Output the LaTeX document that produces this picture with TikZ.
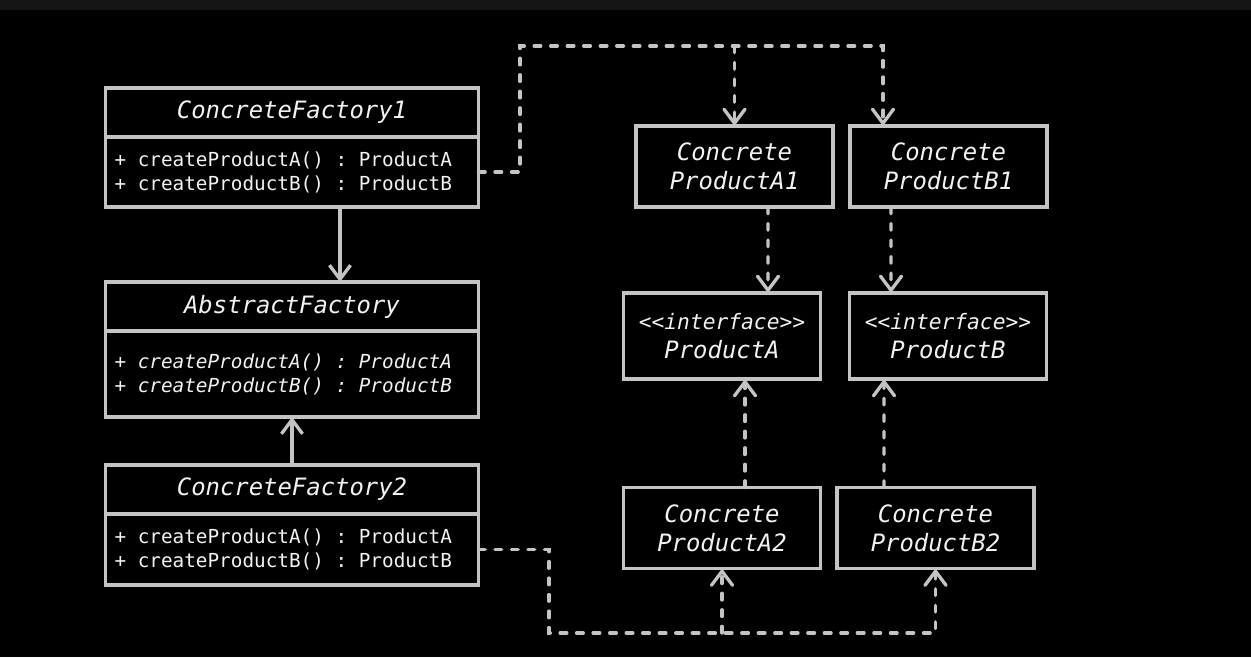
\documentclass[tikz,border=0pt]{standalone}
\usepackage{fontspec}
\setmonofont{DejaVu Sans Mono}
\usetikzlibrary{arrows.meta, positioning}

\definecolor{edge}{HTML}{C4C4C4}
\definecolor{ink}{HTML}{F2F2F2}
\definecolor{topbar}{HTML}{141414}
\newcommand{\namefont}{\fontsize{13.6}{16.4}\selectfont\ttfamily\itshape}
\newcommand{\opfont}{\fontsize{11}{13.6}\selectfont\ttfamily}
\newcommand{\stereo}{\fontsize{12.1}{14}\selectfont}
% full mono spaces (align=left would narrow them)
\newcommand{\monosp}{\spaceskip=0.6021em\xspaceskip=0.6021em\relax}

\begin{document}
\begin{tikzpicture}[
    x=0.02cm, y=-0.02cm,
    head/.style={draw=edge, line width=1.9pt, text=ink, font=\namefont,
                 minimum width=7.46cm, minimum height=0.98cm, inner sep=0pt, outer sep=0pt},
    ops/.style={draw=edge, line width=1.9pt, text=ink, font=\opfont, align=left,
                text width=7.1cm, inner xsep=0.18cm, inner ysep=0pt, outer sep=0pt},
    prod/.style={draw=edge, line width=1.9pt, text=ink, font=\namefont, align=center,
                 minimum width=3.94cm, minimum height=1.62cm, inner sep=0pt, outer sep=0pt},
    dep/.style={draw=edge, line width=1.9pt, line cap=round, dash pattern=on 3.8pt off 5.6pt,
                -{Straight Barb[length=8pt, width=12pt, line cap=round]}},
    gen/.style={draw=edge, line width=1.9pt, -{Straight Barb[length=8pt, width=12pt]}}
  ]
    % background
    \fill[black] (0,0) rectangle (1251,657);
    \fill[topbar] (0,0) rectangle (1251,10);

    % factories
    \node[head] (cf1t) at (292,112.5) {ConcreteFactory1};
    \node[ops, minimum height=1.4cm, below=0pt of cf1t] (cf1b)
      {\monosp + createProductA() : ProductA\\+ createProductB() : ProductB};
    \node[head] (aft) at (292,306.5) {AbstractFactory};
    \node[ops, minimum height=1.72cm, below=0pt of aft, font=\opfont\itshape] (afb)
      {\monosp + createProductA() : ProductA\\+ createProductB() : ProductB};
    \node[head] (cf2t) at (292,489.5) {ConcreteFactory2};
    \node[ops, minimum height=1.42cm, below=0pt of cf2t] (cf2b)
      {\monosp + createProductA() : ProductA\\+ createProductB() : ProductB};

    % products
    \node[prod] (cpa1) at (734.5,166.5) {Concrete\\ProductA1};
    \node[prod] (cpb1) at (948.5,166.5) {Concrete\\ProductB1};
    \node[prod, minimum height=1.72cm] (pa) at (722,336) {{\stereo <<interface>>}\\ProductA};
    \node[prod, minimum height=1.72cm] (pb) at (948,336) {{\stereo <<interface>>}\\ProductB};
    \node[prod] (cpa2) at (722,528) {Concrete\\ProductA2};
    \node[prod] (cpb2) at (935.5,528) {Concrete\\ProductB2};

    \coordinate (t1) at (520,46);
    \coordinate (t2) at (883,46);
    \coordinate (b1) at (549,633);

    % factory links
    \draw[gen] ([xshift=0.96cm]cf1b.south) -- ([xshift=0.96cm]aft.north);
    \draw[gen] (cf2t.north) -- (afb.south);
    \draw[dep] (cf1b.east) -| (t1) -- (t2) -- (t2 |- cpb1.north);
    \draw[dep] (cpa1.north |- t1) -- (cpa1.north);
    \draw[dep] (cf2b.east) -| (b1) -| (cpb2.south);
    \draw[dep] (cpa2.south |- b1) -- (cpa2.south);

    % product links
    \draw[dep] ([xshift=0.67cm]cpa1.south) -- ([xshift=0.92cm]pa.north);
    \draw[dep] ([xshift=-1.15cm]cpb1.south) -- ([xshift=-1.14cm]pb.north);
    \draw[dep] ([xshift=0.46cm]cpa2.north) -- ([xshift=0.46cm]pa.south);
    \draw[dep] ([xshift=-1.03cm]cpb2.north) -- ([xshift=-1.28cm]pb.south);
  \end{tikzpicture}
\end{document}
